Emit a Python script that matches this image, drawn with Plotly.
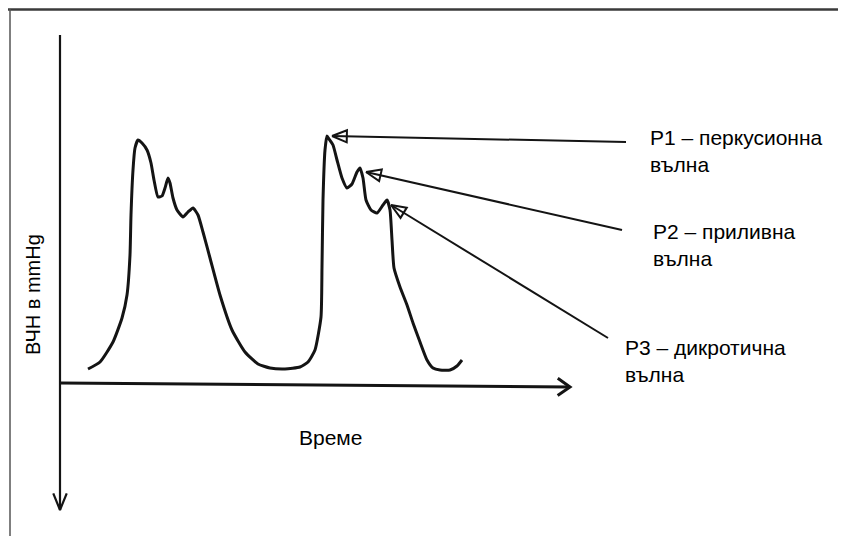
import math
import plotly.graph_objects as go

# ---- data (time units / pressure units) ----
wave_t = [28, 40, 53, 62, 67, 70, 71, 73, 75, 78, 82, 87, 91, 94, 98, 102, 105, 108, 110, 113,
          117, 123, 128, 133, 138, 143, 150, 160, 172, 185, 198, 210, 225, 240, 248, 255, 261,
          262, 263, 265, 267, 269, 273, 277, 282, 287, 292, 297, 300, 303, 306, 311, 317, 323,
          327, 330, 332, 334, 340, 347, 353, 360, 367, 373, 380, 390, 397, 402]
wave_p = [14, 21, 41, 65, 88, 128, 168, 213, 235, 243, 240, 233, 220, 203, 186, 187, 195, 205,
          200, 185, 173, 166, 171, 175, 168, 151, 125, 88, 53, 31, 19, 15, 14, 16, 21, 33, 66,
          116, 183, 233, 247, 244, 238, 223, 205, 195, 199, 211, 215, 205, 183, 173, 170, 178,
          183, 173, 143, 115, 96, 78, 60, 41, 23, 15, 13, 13, 17, 23]

# axes (drawn as arrows): vertical axis ends, horizontal axis ends
v_axis_top = (0, 348)
v_axis_end = (0, -127)
h_axis_start = (0, 0)
h_axis_end = (510, -4)

# pointer arrows: (tail, tip) for P1, P2, P3
pointer_tails = [(566, 241), (562, 153), (548, 45)]
pointer_tips = [(272, 247), (306, 211), (331, 178)]

labels = ["P1 – перкусионна<br>вълна", "P2 – приливна<br>вълна", "P3 – дикротична<br>вълна"]
label_pos = [(588, 232), (591, 138), (563, 22)]

x_title = "Време"
y_title = "ВЧН в mmHg"

INK = "#141414"
FONT = "Liberation Sans, Arial, Helvetica, sans-serif"
FS = 21


def head(tail, tip, length, half_angle_deg, closed):
    dx, dy = tail[0] - tip[0], tail[1] - tip[1]
    n = math.hypot(dx, dy)
    ux, uy = dx / n, dy / n
    a = math.radians(half_angle_deg)
    pts = []
    for s in (1, -1):
        c, si = math.cos(s * a), math.sin(s * a)
        rx, ry = ux * c - uy * si, ux * si + uy * c
        pts.append((tip[0] + rx * length, tip[1] + ry * length))
    if closed:
        xs = [tip[0], pts[0][0], pts[1][0], tip[0]]
        ys = [tip[1], pts[0][1], pts[1][1], tip[1]]
    else:
        xs = [pts[0][0], tip[0], pts[1][0]]
        ys = [pts[0][1], tip[1], pts[1][1]]
    return xs, ys


fig = go.Figure()

# waveform
fig.add_trace(go.Scatter(x=wave_t, y=wave_p, mode="lines",
                         line=dict(color=INK, width=3, shape="spline", smoothing=0.5),
                         hoverinfo="skip"))

# vertical axis with V head at bottom
fig.add_trace(go.Scatter(x=[v_axis_top[0], v_axis_end[0]], y=[v_axis_top[1], v_axis_end[1]],
                         mode="lines", line=dict(color=INK, width=2.2), hoverinfo="skip"))
hx, hy = head(v_axis_top, v_axis_end, 18, 22, False)
fig.add_trace(go.Scatter(x=hx, y=hy, mode="lines", line=dict(color=INK, width=2.2), hoverinfo="skip"))

# horizontal axis with V head at right
fig.add_trace(go.Scatter(x=[h_axis_start[0], h_axis_end[0]], y=[h_axis_start[1], h_axis_end[1]],
                         mode="lines", line=dict(color=INK, width=3), hoverinfo="skip"))
hx, hy = head(h_axis_start, h_axis_end, 15, 35, False)
fig.add_trace(go.Scatter(x=hx, y=hy, mode="lines", line=dict(color=INK, width=3), hoverinfo="skip"))

# pointer arrows
for tail, tip in zip(pointer_tails, pointer_tips):
    fig.add_trace(go.Scatter(x=[tail[0], tip[0]], y=[tail[1], tip[1]], mode="lines",
                             line=dict(color=INK, width=2), hoverinfo="skip"))
    hx, hy = head(tail, tip, 16, 22, True)
    fig.add_trace(go.Scatter(x=hx, y=hy, mode="lines", line=dict(color=INK, width=2),
                             hoverinfo="skip"))

annotations = []
for txt, (x, y) in zip(labels, label_pos):
    annotations.append(dict(x=x, y=y, xref="x", yref="y", text=txt, showarrow=False,
                            xanchor="left", yanchor="middle", align="left",
                            font=dict(family=FONT, size=FS, color="black")))
annotations.append(dict(x=270, y=-54, xref="x", yref="y", text=x_title, showarrow=False,
                        xanchor="center", yanchor="middle",
                        font=dict(family=FONT, size=FS, color="black")))
annotations.append(dict(x=-27, y=88, xref="x", yref="y", text=y_title, showarrow=False,
                        textangle=-90, xanchor="center", yanchor="middle",
                        font=dict(family=FONT, size=20, color="black")))

# the page body adds an 8 px offset; ranges are chosen so that the drawing lands in place
fig.update_layout(
    width=846, height=536, autosize=False,
    margin=dict(l=0, r=0, t=0, b=0),
    paper_bgcolor="white", plot_bgcolor="white",
    showlegend=False,
    xaxis=dict(range=[-52, 794], visible=False, fixedrange=True),
    yaxis=dict(range=[-161, 375], visible=False, fixedrange=True),
    annotations=annotations,
    shapes=[
        dict(type="line", xref="paper", yref="paper", x0=0, x1=1.0, y0=1 - 1.5 / 536, y1=1 - 1.5 / 536,
             line=dict(color="#3a3a3a", width=2.5)),
        dict(type="line", xref="paper", yref="paper", x0=2 / 846, x1=2 / 846, y0=0, y1=1 - 1 / 536,
             line=dict(color="#555555", width=1.5)),
    ],
)

fig.write_html("out.html")
